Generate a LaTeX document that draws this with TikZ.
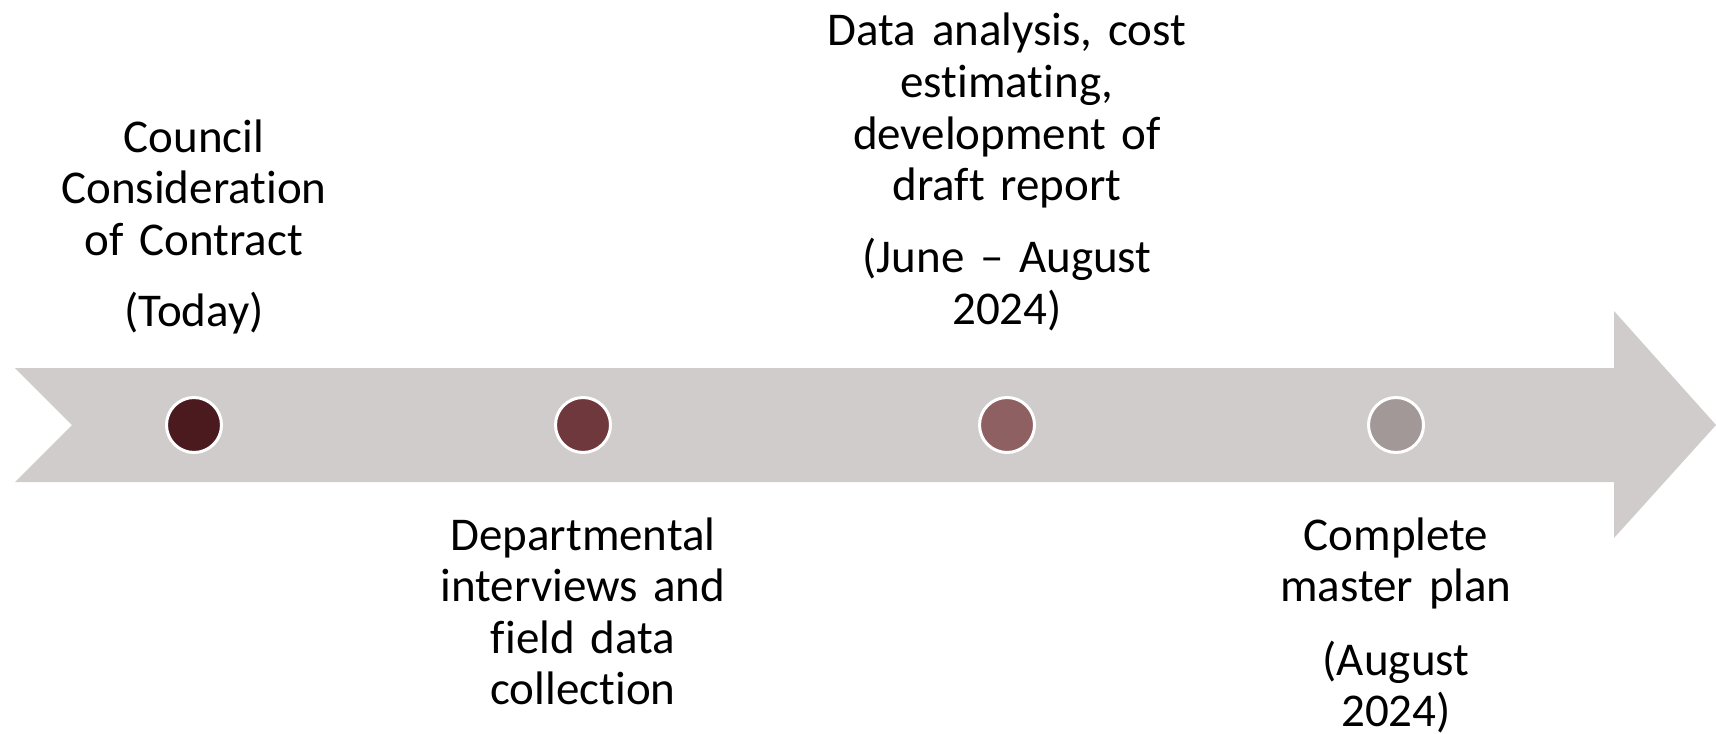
\documentclass[tikz,border=0pt]{standalone}
\usepackage{fontspec}
\setmainfont[Ligatures=NoCommon]{Carlito}
\usepackage{tikz}
\usetikzlibrary{shapes}
\usepackage{xcolor}
\definecolor{band}{HTML}{D0CCCB}
\definecolor{stepA}{HTML}{4A1A1E}
\definecolor{stepB}{HTML}{6F383C}
\definecolor{stepC}{HTML}{8E6062}
\definecolor{stepD}{HTML}{A39898}
\frenchspacing

\begin{document}
\begin{tikzpicture}[x=0.5pt,y=-0.5pt,
	dot/.style={circle,draw=white,line width=1.5pt,minimum size=27.5pt,inner sep=0pt},
	lbl/.style={anchor=base,text width=200pt,align=center,inner sep=0pt,
		font=\fontsize{23.5}{25.8}\selectfont}]
\useasboundingbox (0,0) rectangle (1716,733);
% timeline band with notched tail
\fill[band] (15,368) -- (1614,368) -- (1614,311) -- (1716,425) -- (1614,538)
	-- (1614,482) -- (15,482) -- (72,425) -- cycle;
\node[dot,fill=stepA] (p1) at (194,425) {};
\node[dot,fill=stepB] (p2) at (583,425) {};
\node[dot,fill=stepC] (p3) at (1007,425) {};
\node[dot,fill=stepD] (p4) at (1396,425) {};
% labels, alternating above and below
\node[lbl] (today) at (194,152) {Council\\ Consideration\\ of Contract\\[10pt] (Today)};
\node[lbl] (interviews) at (583,550) {Departmental\\ interviews and\\ field data\\ collection};
\node[lbl] (analysis) at (1007,46) {Data analysis, cost\\ estimating,\\ development of\\ draft report\\[10pt] (June -- August\\ 2024)};
\node[lbl] (complete) at (1396,550) {Complete\\ master plan\\[11pt] (August\\ 2024)};
\end{tikzpicture}
\end{document}
